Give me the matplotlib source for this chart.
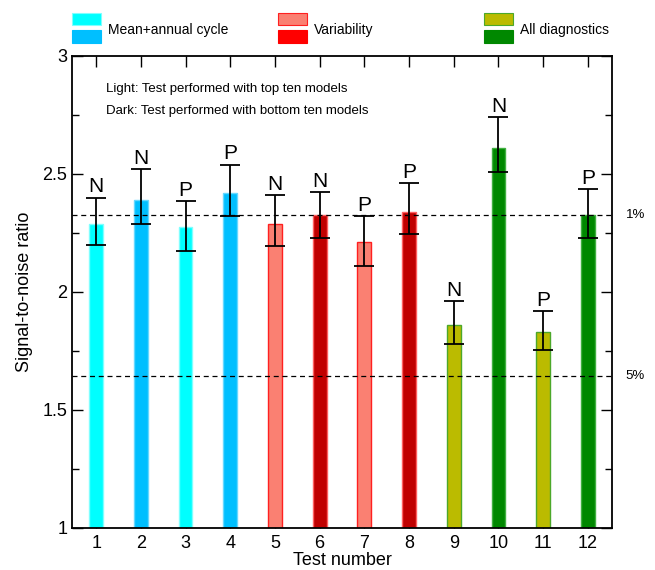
import matplotlib
matplotlib.use("Agg")
import matplotlib.pyplot as plt
from matplotlib.patches import Rectangle
import numpy as np

plt.rcParams['font.family'] = ['Liberation Sans', 'DejaVu Sans']

# Signal-to-noise ratio for each test, with error-bar bounds
tests = [1, 2, 3, 4, 5, 6, 7, 8, 9, 10, 11, 12]
snr = [2.29, 2.39, 2.275, 2.42, 2.29, 2.325, 2.21, 2.34, 1.86, 2.61, 1.832, 2.325]
snr_low = [2.20, 2.29, 2.175, 2.32, 2.195, 2.23, 2.11, 2.245, 1.78, 2.51, 1.755, 2.23]
snr_high = [2.40, 2.52, 2.385, 2.54, 2.41, 2.425, 2.32, 2.46, 1.96, 2.74, 1.92, 2.435]
result = ['N', 'N', 'P', 'P', 'N', 'N', 'P', 'P', 'N', 'N', 'P', 'P']

# Significance thresholds
thresholds = [2.326, 1.645]
threshold_labels = ['1%', '5%']

groups = ['Mean+annual cycle', 'Variability', 'All diagnostics']
light_colors = ['#00FFFF', '#FA8072', '#BBBB00']
dark_colors = ['#00BFFF', '#C00000', '#008800']
legend_dark = ['#00BFFF', '#FF0000', '#008800']
light_edges = ['#7FFFFF', '#FF2020', '#4CA82A']
dark_edges = ['#66D8FF', '#FF6060', '#40B040']

fig = plt.figure(figsize=(6.55, 5.70), dpi=100)
ax = fig.add_axes([72/655, 42/570, 540/655, 472/570])

face, edge = [], []
for i in range(len(tests)):
    g = i // 4
    if i % 2 == 0:
        face.append(light_colors[g]); edge.append(light_edges[g])
    else:
        face.append(dark_colors[g]); edge.append(dark_edges[g])

ax.bar(tests, np.array(snr) - 1, bottom=1, width=0.31, color=face,
       edgecolor=edge, linewidth=1.0, zorder=2)

for t, v, lo, hi, r in zip(tests, snr, snr_low, snr_high, result):
    ax.errorbar(t, v, yerr=[[v - lo], [hi - v]], fmt='none', ecolor='black',
                elinewidth=1.3, capsize=7, capthick=1.3, zorder=4)
    ax.text(t, hi + 0.005, r, ha='center', va='bottom', fontsize=15, zorder=5)

for th, lab in zip(thresholds, threshold_labels):
    ax.axhline(th, color='black', linestyle=(0, (4, 3)), linewidth=0.9, zorder=3)
    ax.text(1.025, th, lab, transform=ax.get_yaxis_transform(),
            ha='left', va='center', fontsize=9.5)

ax.set_xlim(0.46, 12.54)
ax.set_ylim(1, 3)
ax.set_xticks(tests)
ax.set_yticks([1, 1.5, 2, 2.5, 3])
ax.set_yticklabels(['1', '1.5', '2', '2.5', '3'])
ax.set_yticks([1.25, 1.75, 2.25, 2.75], minor=True)
ax.tick_params(axis='both', which='both', direction='in', top=True, right=True,
               labelsize=13, width=1.0)
ax.tick_params(axis='both', which='major', length=8)
ax.tick_params(axis='y', which='minor', length=5)
ax.tick_params(axis='x', pad=5)
for s in ax.spines.values():
    s.set_linewidth(1.3)

ax.set_xlabel('Test number', fontsize=13, labelpad=0)
ax.set_ylabel('Signal-to-noise ratio', fontsize=13, labelpad=7)

ax.text(106/655, 1 - 89/570, 'Light: Test performed with top ten models',
        transform=fig.transFigure, ha='left', va='center', fontsize=9.5)
ax.text(106/655, 1 - 111/570, 'Dark: Test performed with bottom ten models',
        transform=fig.transFigure, ha='left', va='center', fontsize=9.5)

# Legend: each group shows a light swatch above a dark swatch
W, H = 655, 570
legend_x = [72, 278, 484]
for x0, name, lc, dc, le in zip(legend_x, groups, light_colors, legend_dark, light_edges):
    fig.patches.append(Rectangle((x0/W, 1 - 25/H), 29/W, 12/H, transform=fig.transFigure,
                                 facecolor=lc, edgecolor=le, linewidth=0.8))
    fig.patches.append(Rectangle((x0/W, 1 - 43/H), 29/W, 13/H, transform=fig.transFigure,
                                 facecolor=dc, edgecolor=dc, linewidth=0.8))
    fig.text((x0 + 36)/W, 1 - 30/H, name, ha='left', va='center', fontsize=10)

fig.savefig('out.png', dpi=100)
